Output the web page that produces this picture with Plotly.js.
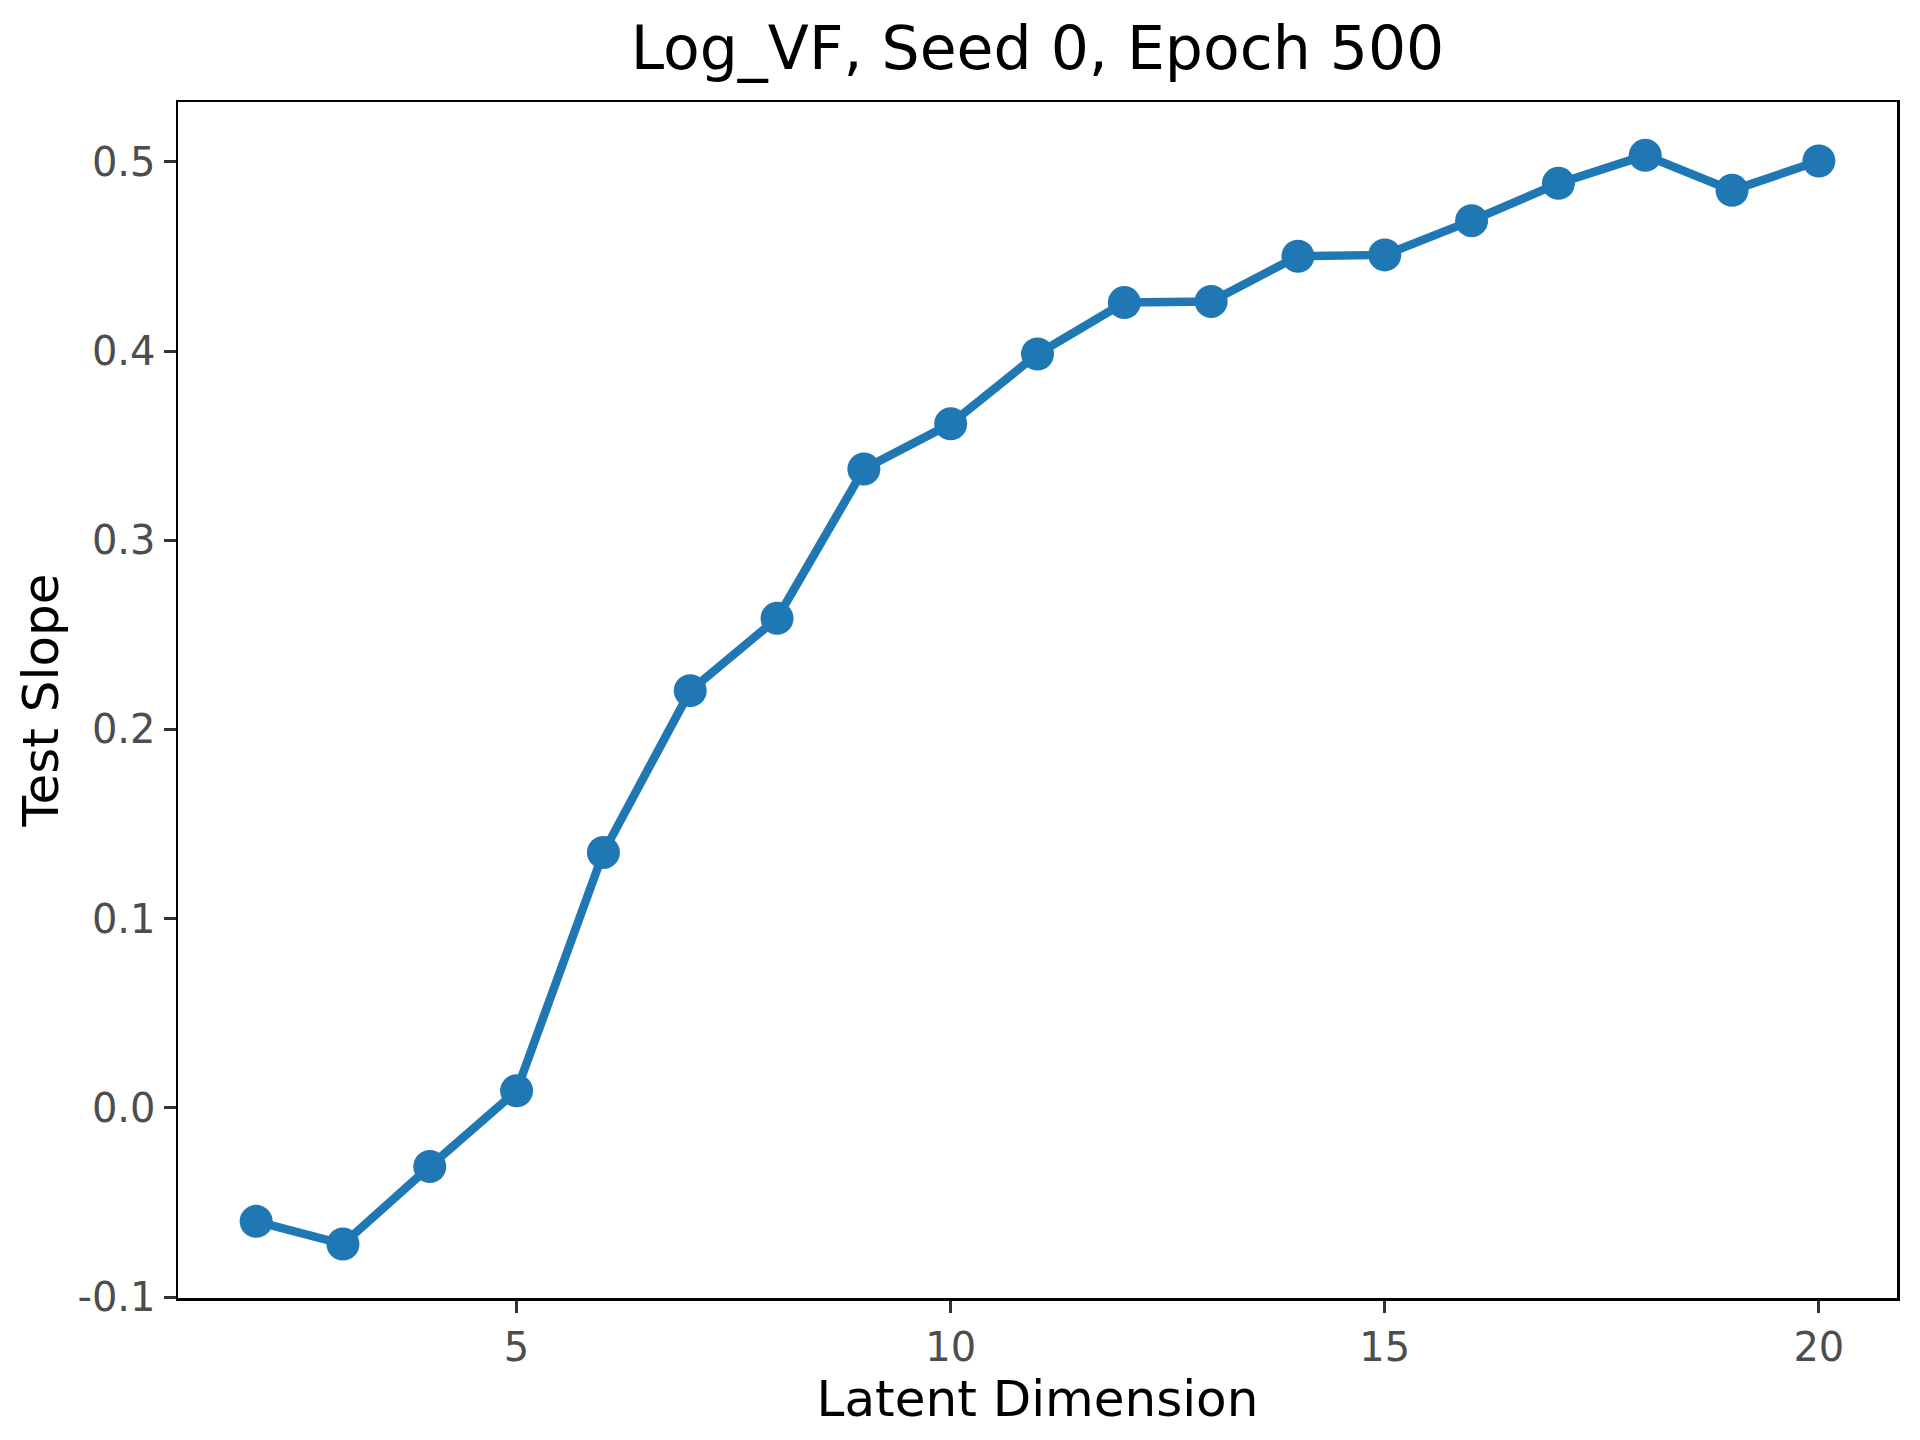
<!DOCTYPE html>
<html>
<head>
<meta charset="utf-8">
<script src="https://cdn.plot.ly/plotly-3.0.1.min.js"></script>
<style>
  html, body { margin: 0; padding: 0; background: #fff; }
  #chart { width: 1920px; height: 1440px; }
</style>
</head>
<body>
<div id="chart"></div>
<script>
// latent dimension vs test slope
const latent_dim = [2, 3, 4, 5, 6, 7, 8, 9, 10, 11, 12, 13, 14, 15, 16, 17, 18, 19, 20];
const test_slope = [-0.060, -0.072, -0.031, 0.009, 0.135, 0.2205, 0.2587, 0.3376, 0.3615, 0.3984,
                    0.4256, 0.4262, 0.4501, 0.4508, 0.4689, 0.4886, 0.5034, 0.4849, 0.5004];

const x_tick_vals = [5, 10, 15, 20];
const y_tick_vals = [-0.1, 0.0, 0.1, 0.2, 0.3, 0.4, 0.5];
const y_tick_text = ['-0.1', '0.0', '0.1', '0.2', '0.3', '0.4', '0.5'];

const chart_title = 'Log_VF, Seed 0, Epoch 500';
const x_label = 'Latent Dimension';
const y_label = 'Test Slope';

const FONT = 'DejaVu Sans, sans-serif';
const blue = '#1f77b4';

var trace = {
    x: latent_dim,
    y: test_slope,
    type: 'scatter',
    mode: 'lines+markers',
    line: {color: blue, width: 8.5},
    marker: {color: blue, size: 33, line: {width: 0}},
    hoverinfo: 'x+y',
};

let axis_common = {
    showgrid: false,
    zeroline: false,
    showline: true,
    linecolor: '#000',
    linewidth: 2.5,
    mirror: true,
    ticks: 'outside',
    ticklen: 12,
    tickwidth: 3,
    tickcolor: '#333',
    tickfont: {family: FONT, size: 40, color: '#4d4d4d'},
    automargin: false,
};

var layout = {
    width: 1920,
    height: 1440,
    margin: {l: 178, r: 23, t: 102, b: 142},
    paper_bgcolor: '#fff',
    plot_bgcolor: '#fff',
    showlegend: false,
    font: {family: FONT, color: '#000'},
    title: {
        text: chart_title,
        font: {family: FONT, size: 60, color: '#000'},
        x: 0.5, xanchor: 'center',
        y: 1 - 48 / 1440, yanchor: 'middle',
        xref: 'paper', yref: 'container',
    },
    xaxis: {
        ...axis_common,
        range: [1.1, 20.9],
        tickmode: 'array',
        tickvals: x_tick_vals,
        title: {text: x_label, font: {family: FONT, size: 50, color: '#000'}, standoff: 0},
    },
    yaxis: {
        ...axis_common,
        range: [-0.1005, 0.5316],
        tickmode: 'array',
        tickvals: y_tick_vals,
        ticktext: y_tick_text,
        title: {text: y_label, font: {family: FONT, size: 50, color: '#000'}, standoff: 3},
    },
};

Plotly.newPlot('chart', [trace], layout, {staticPlot: true, displayModeBar: false});
</script>
</body>
</html>
